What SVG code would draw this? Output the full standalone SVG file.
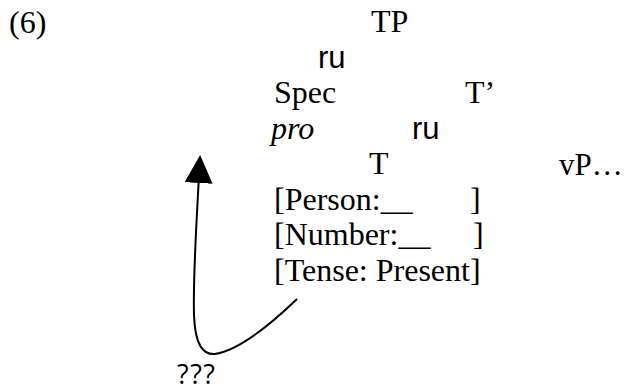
<svg xmlns="http://www.w3.org/2000/svg" width="624" height="391" viewBox="0 0 624 391">
<style>
.s{font-family:"Liberation Serif","Times New Roman",serif;font-size:32px;fill:#000}
.i{font-style:italic}
.v{font-size:31px}
.b{font-family:"Liberation Sans",Arial,sans-serif;font-size:31px;fill:#000}
.q{font-family:"Open Sans","Liberation Sans",sans-serif;font-size:27px;letter-spacing:1.5px;fill:#000}
.c{fill:none;stroke:#000;stroke-width:2}
</style>
<defs>
<marker id="ah" markerUnits="userSpaceOnUse" markerWidth="30" markerHeight="30" refX="0" refY="14" orient="auto" viewBox="0 0 30 30">
<path d="M0 0 L28 14 L0 28 Z" fill="#000"/>
</marker>
</defs>
<rect width="624" height="391" fill="#fff"/>
<g id="label"><text class="s" x="9" y="33">(6)</text></g>
<g id="TP"><text class="s" x="371" y="32">TP</text></g>
<g id="branch1"><text class="b" x="318" y="67.5">ru</text></g>
<g id="Spec"><text class="s" x="274" y="103">Spec</text><text class="s i" x="271" y="138.5">pro</text></g>
<g id="Tbar"><text class="s" x="465" y="103">T’</text></g>
<g id="branch2"><text class="b" x="412" y="138.5">ru</text></g>
<g id="T"><text class="s" x="369" y="174">T</text>
<text class="s" x="274" y="209.5">[Person:__<tspan x="470">]</tspan></text>
<text class="s" x="274" y="245">[Number:__<tspan x="473">]</tspan></text>
<text class="s" x="274" y="280.5">[Tense: Present]</text></g>
<g id="vP"><text class="s v" x="559" y="175">vP…</text></g>
<g id="q"><text class="q" x="177" y="384">???</text></g>
<g id="connectors">
<path class="c" d="M297 299 C270 325 240 350 215 354 C203 355 195 345 194 315 C193 280 196 230 198.6 183" marker-end="url(#ah)"/>
</g>
</svg>
